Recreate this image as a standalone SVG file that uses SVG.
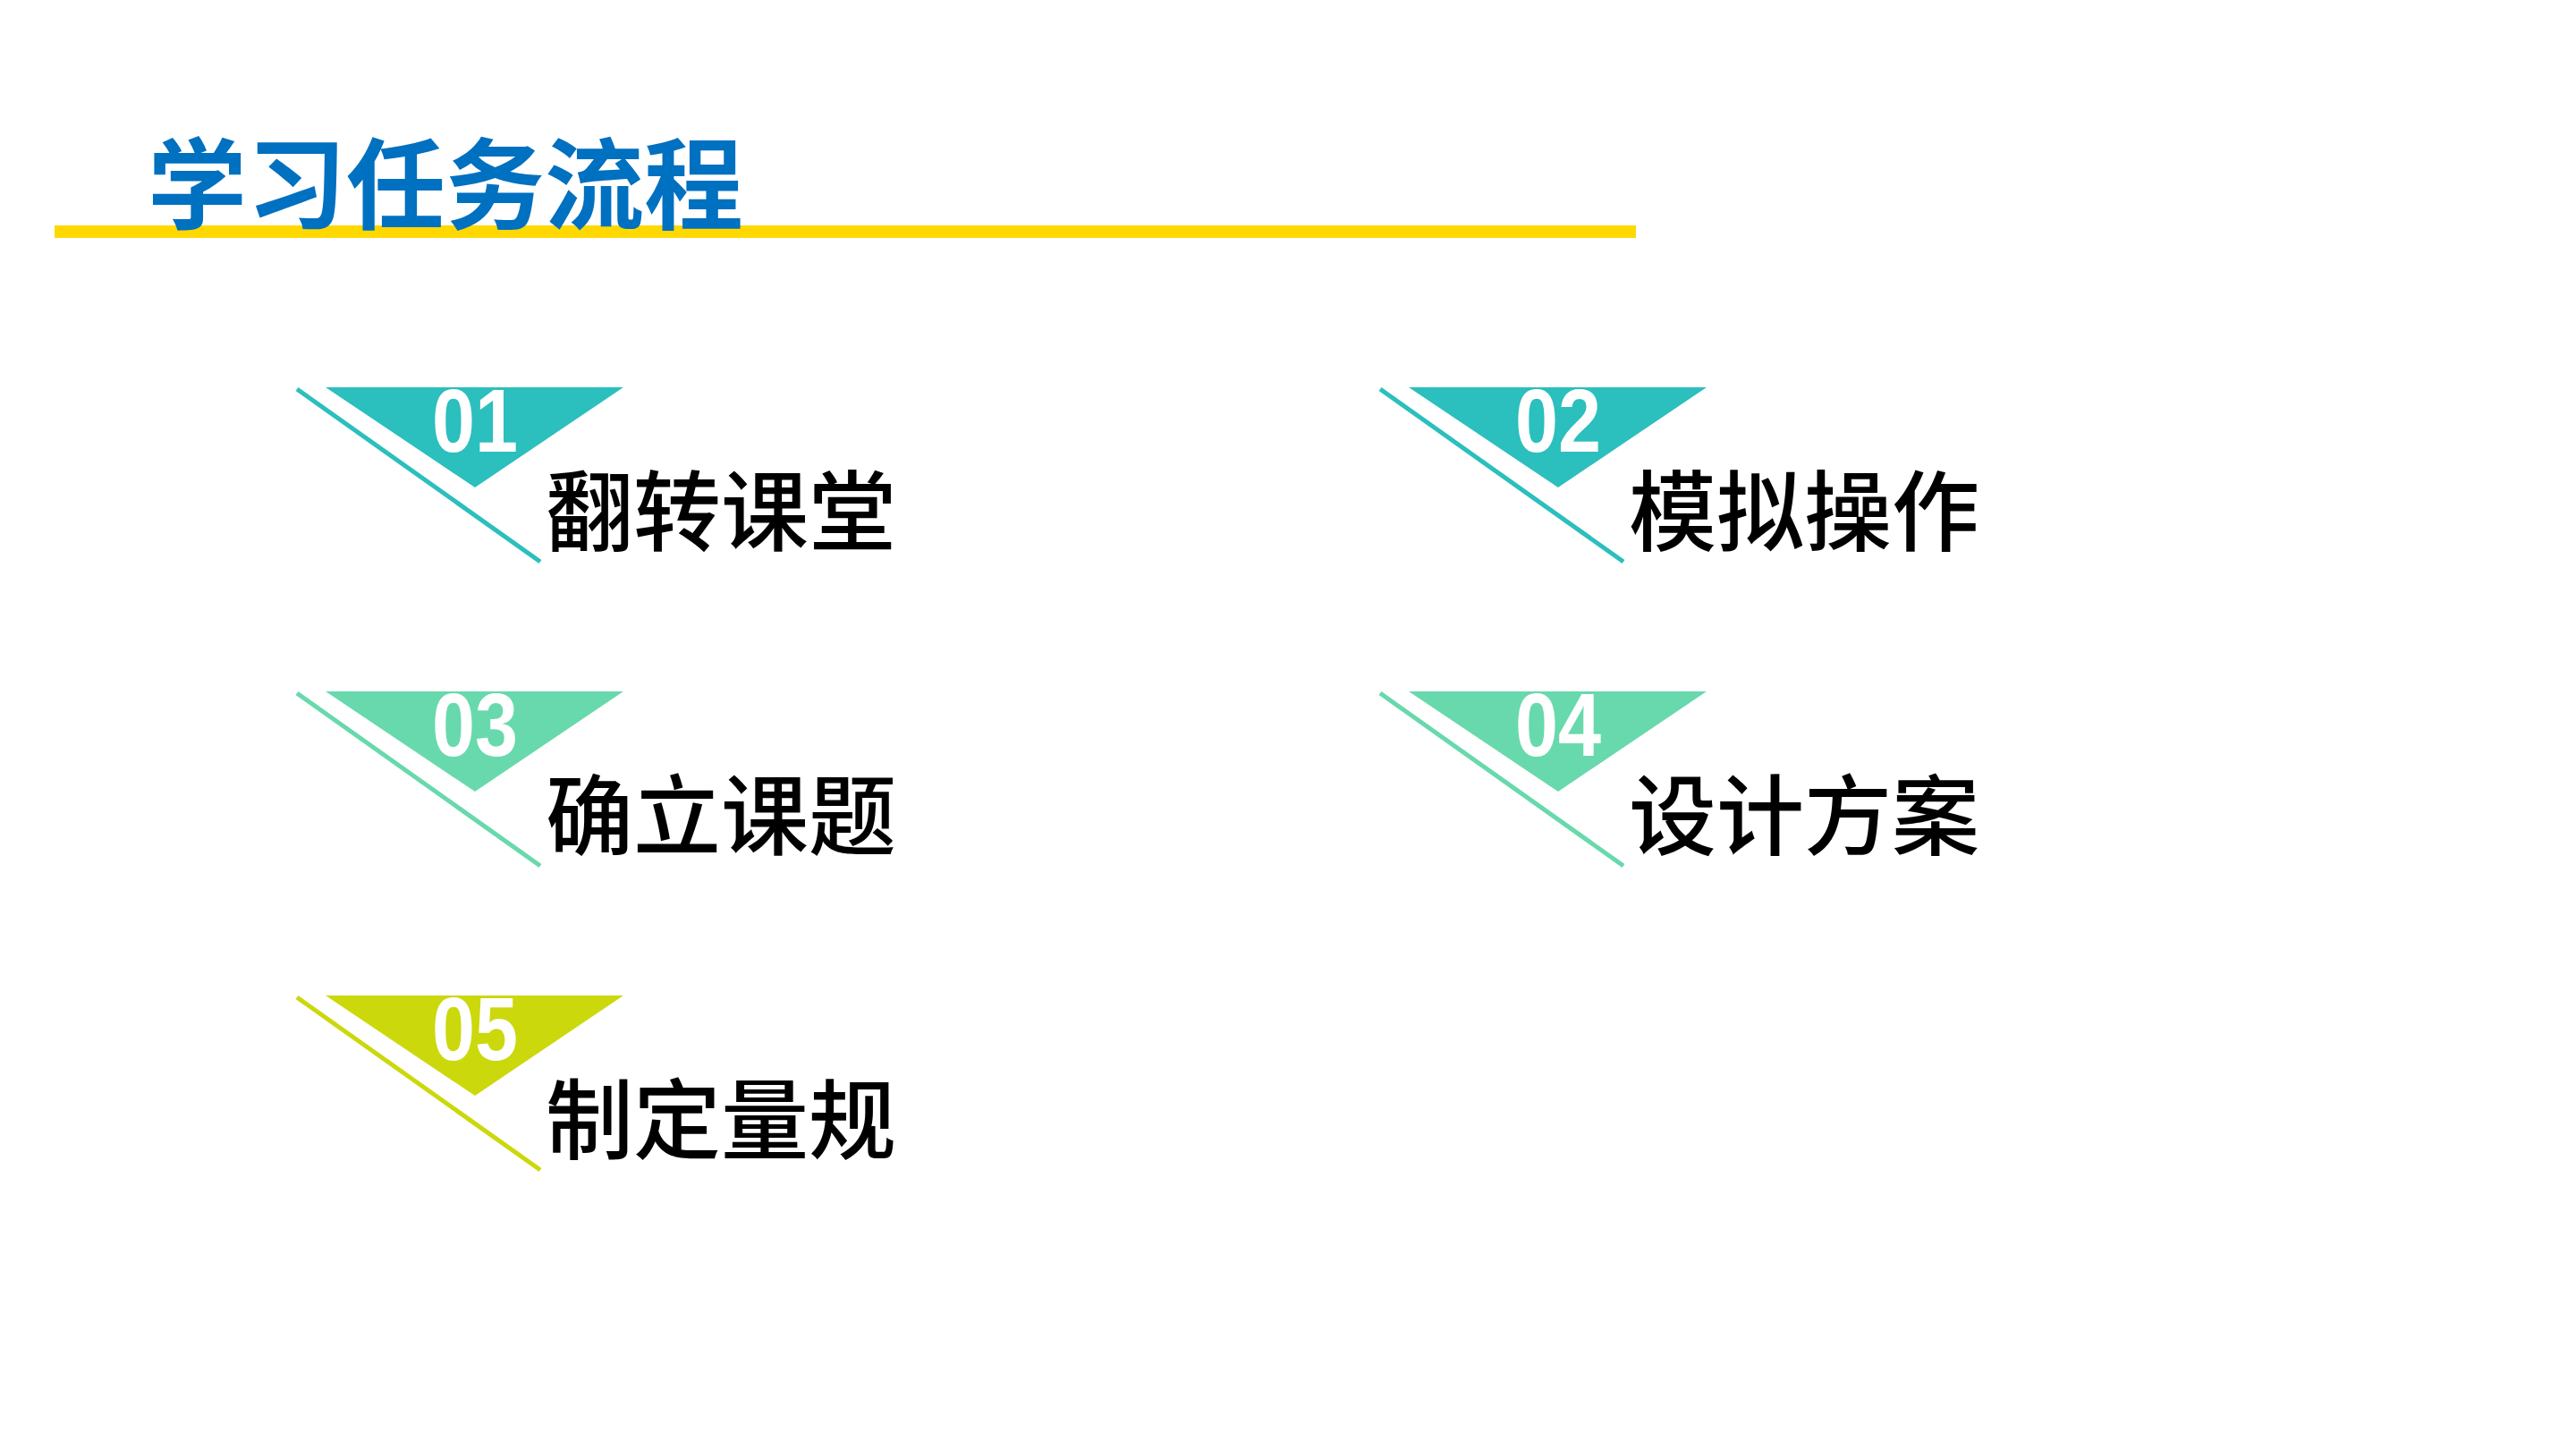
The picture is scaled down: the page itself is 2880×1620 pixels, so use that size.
<svg xmlns="http://www.w3.org/2000/svg" width="2880" height="1620" viewBox="0 0 2880 1620">
<style>
.title{font-family:"Noto Sans CJK SC","Noto Sans",sans-serif;font-weight:700;font-size:111px;fill:#0070C0}
.num{font-family:"Liberation Sans",Arial,sans-serif;font-weight:700;font-size:100px;fill:#FFFFFF;text-anchor:middle}
.lbl{font-family:"Noto Sans CJK SC","Noto Sans",sans-serif;font-weight:500;font-size:98px;fill:#000000}
.c1{fill:#2BBFBD}
.c1l{stroke:#2BBFBD;stroke-width:5;fill:none}
.c2{fill:#68D9AC}
.c2l{stroke:#68D9AC;stroke-width:5;fill:none}
.c3{fill:#CBD80C}
.c3l{stroke:#CBD80C;stroke-width:5;fill:none}
</style>
<defs>
<polygon id="tri" points="364,433 697,433 531,545"/>
</defs>
<rect width="2880" height="1620" fill="#FFFFFF"/>
<g id="header">
<rect x="61" y="252" width="1768" height="14" fill="#FFD800"/>
<text class="title" x="165" y="248">学习任务流程</text>
</g>
<g id="node-01">
<use href="#tri" class="c1"/>
<line class="c1l" x1="332" y1="435" x2="604" y2="628"/>
<text class="num" x="531" y="505" textLength="96" lengthAdjust="spacingAndGlyphs">01</text>
<text class="lbl" x="610" y="608">翻转课堂</text>
</g>
<g id="node-02" transform="translate(1211,0)">
<use href="#tri" class="c1"/>
<line class="c1l" x1="332" y1="435" x2="604" y2="628"/>
<text class="num" x="531" y="505" textLength="96" lengthAdjust="spacingAndGlyphs">02</text>
<text class="lbl" x="610" y="608">模拟操作</text>
</g>
<g id="node-03" transform="translate(0,340)">
<use href="#tri" class="c2"/>
<line class="c2l" x1="332" y1="435" x2="604" y2="628"/>
<text class="num" x="531" y="505" textLength="96" lengthAdjust="spacingAndGlyphs">03</text>
<text class="lbl" x="610" y="608">确立课题</text>
</g>
<g id="node-04" transform="translate(1211,340)">
<use href="#tri" class="c2"/>
<line class="c2l" x1="332" y1="435" x2="604" y2="628"/>
<text class="num" x="531" y="505" textLength="96" lengthAdjust="spacingAndGlyphs">04</text>
<text class="lbl" x="610" y="608">设计方案</text>
</g>
<g id="node-05" transform="translate(0,680)">
<use href="#tri" class="c3"/>
<line class="c3l" x1="332" y1="435" x2="604" y2="628"/>
<text class="num" x="531" y="505" textLength="96" lengthAdjust="spacingAndGlyphs">05</text>
<text class="lbl" x="610" y="608">制定量规</text>
</g>
<g id="connectors"/>
</svg>
